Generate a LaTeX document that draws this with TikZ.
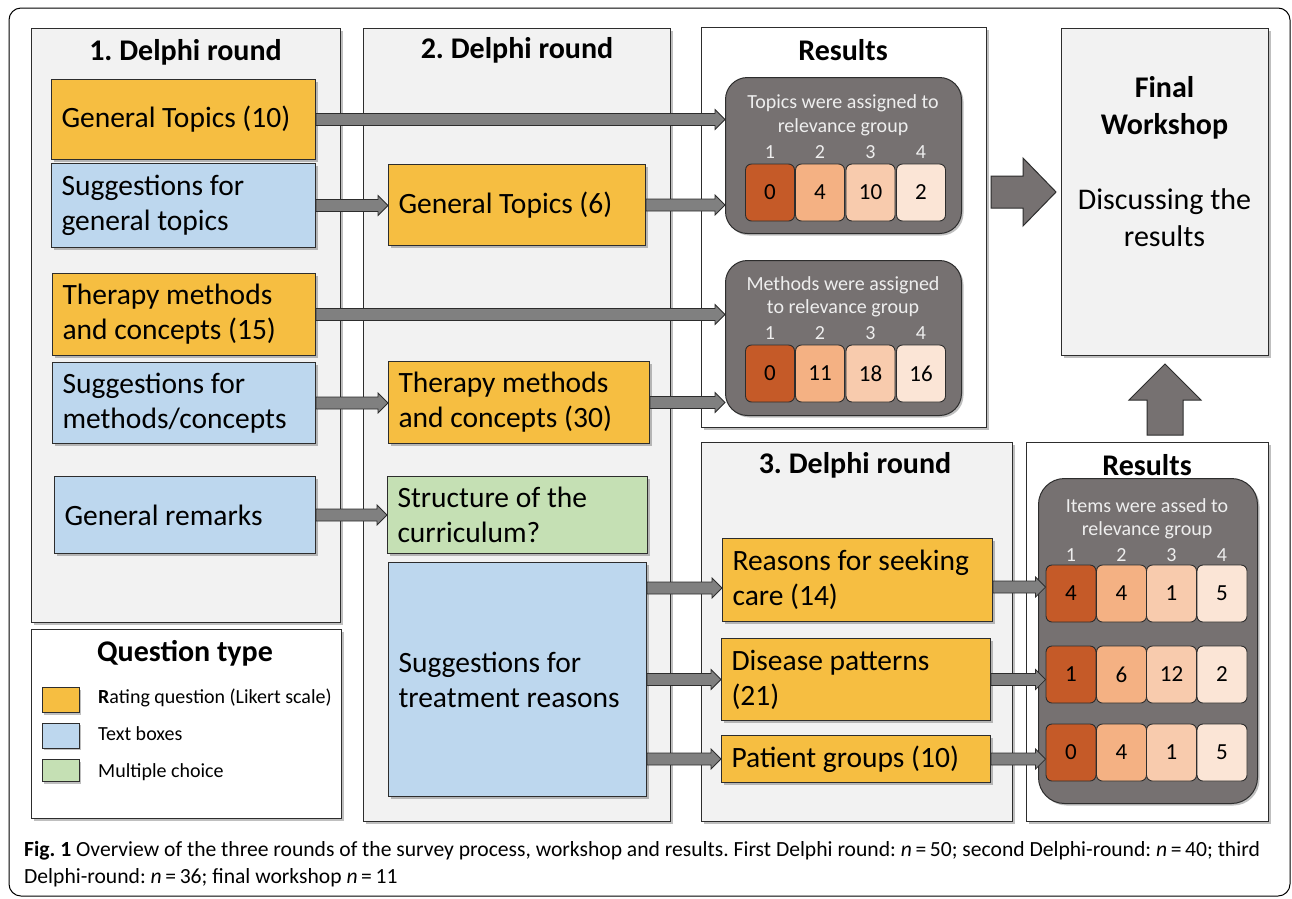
\documentclass[tikz,border=0pt]{standalone}
\usepackage{fontspec}
\setmainfont{Carlito}
\usetikzlibrary{shadows,calc}
\definecolor{orangec}{RGB}{246,190,65}
\definecolor{bluec}{RGB}{189,215,238}
\definecolor{greenc}{RGB}{197,224,180}
\definecolor{panelc}{RGB}{242,242,242}
\definecolor{linec}{RGB}{45,45,45}
\definecolor{resc}{RGB}{118,113,113}
\definecolor{arrowc}{RGB}{128,128,128}
\definecolor{cA}{RGB}{197,90,40}
\definecolor{cB}{RGB}{244,177,131}
\definecolor{cC}{RGB}{248,203,173}
\definecolor{cD}{RGB}{251,229,214}
\definecolor{lighttext}{RGB}{238,238,238}
\frenchspacing
\newcommand\fsz[2]{\fontsize{#1pt}{#2pt}\selectfont}
\newcommand\flowarrow[2]{%
  \draw[flow] let \p1=(#1), \p2=(#2) in
    (\x1,\y1+6pt) -- (\x2-10pt,\y1+6pt) -- (\x2-10pt,\y1+10pt) -- (\x2,\y1)
    -- (\x2-10pt,\y1-10pt) -- (\x2-10pt,\y1-6pt) -- (\x1,\y1-6pt) -- cycle;}
\begin{document}
\begin{tikzpicture}[x=1pt,y=-1pt,
  shad/.style={drop shadow={shadow xshift=2pt,shadow yshift=-2pt,opacity=0.25,fill=black}},
  panel/.style={draw=linec,fill=panelc,line width=1,anchor=north west,inner sep=0,shad},
  wpanel/.style={draw=linec,fill=white,line width=1,anchor=north west,inner sep=0,shad},
  qbox/.style={draw=linec,line width=1,anchor=north west,inner xsep=10pt,inner ysep=0pt,
     align=flush left,font=\fsz{29.5}{35},shad},
  ttl/.style={font=\bfseries\fsz{30}{36},inner sep=0},
  flow/.style={fill=arrowc,draw=linec,line width=0.8},
  bigarrow/.style={fill=resc,draw=linec,line width=1},
  resbox/.style={draw=linec,fill=resc,line width=1,rounded corners=22pt,anchor=north west,inner sep=0,shad},
  cell/.style={draw=linec,line width=0.9,rounded corners=6pt,minimum width=49pt,minimum height=57pt,inner sep=0,font=\fsz{23}{26}},
  colnum/.style={text=lighttext,font=\fsz{20}{24},inner sep=0},
  swatch/.style={draw=linec,line width=1,minimum width=37pt,minimum height=25pt,inner sep=0,shad},
  legtxt/.style={anchor=west,font=\fsz{20}{24},inner sep=0}
]
\useasboundingbox (0,0) rectangle (1292,898);
\fill[white] (0,0) rectangle (1292,898);
\draw[black,line width=1,rounded corners=12pt] (9,8) rectangle (1290,896);

% panels
\node[panel,minimum width=309,minimum height=594] (p1) at (31,28) {};
\node[wpanel,minimum width=310,minimum height=189] (leg) at (31,629) {};
\node[panel,minimum width=307,minimum height=793] (p2) at (363,28) {};
\node[wpanel,minimum width=285,minimum height=400] (r1) at (701,27) {};
\node[panel,minimum width=311,minimum height=379] (p3) at (701,442) {};
\node[wpanel,minimum width=242,minimum height=379] (r2) at (1026,442) {};
\node[panel,minimum width=207,minimum height=327] (ws) at (1061,28) {};

% titles
\node[ttl] (t1) at (185.5,52) {1. Delphi round};
\node[ttl] (t2) at (517,50) {2. Delphi round};
\node[ttl] (t3) at (843,50) {Results};
\node[ttl] (t4) at (855,465) {3. Delphi round};
\node[ttl] (t5) at (1147,465) {Results};
\node[ttl,align=flush center,font=\bfseries\fsz{30}{37}] (wt) at (1164.5,107.5) {Final\\Workshop};
\node[align=flush center,font=\fsz{30}{37},inner sep=0] (wd) at (1164.5,217.5) {Discussing the\\results};

% round 1 boxes
\node[qbox,fill=orangec,text width=244,minimum height=80] (gt10) at (51,79) {General Topics (10)};
\node[qbox,fill=bluec,text width=244,minimum height=84] (sgt) at (51,163) {Suggestions for\\general topics};
\node[qbox,fill=orangec,text width=243,minimum height=82] (tm15) at (52,273) {Therapy methods\\and concepts (15)};
\node[qbox,fill=bluec,text width=243,minimum height=81] (smc) at (52,362) {Suggestions for\\methods/concepts};
\node[qbox,fill=bluec,text width=241,minimum height=77] (grem) at (54,476) {General remarks};

% round 2 boxes
\node[qbox,fill=orangec,text width=237,minimum height=81] (gt6) at (388,164) {General Topics (6)};
\node[qbox,fill=orangec,text width=241,minimum height=82] (tm30) at (388,361) {Therapy methods\\and concepts (30)};
\node[qbox,fill=greenc,text width=240,minimum height=77] (struct) at (387,476) {Structure of the\\curriculum?};
\node[qbox,fill=bluec,text width=238,minimum height=234] (treat) at (388,562) {Suggestions for\\treatment reasons};

% round 3 boxes
\node[qbox,fill=orangec,text width=250,minimum height=83] (reas) at (722,538) {Reasons for seeking\\care (14)};
\node[qbox,fill=orangec,text width=249,minimum height=82] (dis) at (721,638) {Disease patterns\\(21)};
\node[qbox,fill=orangec,text width=249,minimum height=47] (pat) at (721,735) {Patient groups (10)};

% results 1
\node[resbox,minimum width=236,minimum height=156] (resA) at (725,77) {};
\node[colnum,align=flush center,font=\fsz{20}{24}] (hA) at (843,115) {Topics were assigned to\\relevance group};
\node[resbox,minimum width=236,minimum height=155] (resB) at (725,260) {};
\node[colnum,align=flush center,font=\fsz{20}{23}] (hB) at (843,296.5) {Methods were assigned\\to relevance group};
\foreach \n/\x in {1/770,2/820,3/870.5,4/921}{
  \node[colnum] (nA\n) at (\x,152) {\n};
  \node[colnum] (nB\n) at (\x,333) {\n};
}
\node[cell,fill=cA] (a1) at (770,192.5) {0};
\node[cell,fill=cB] (a2) at (820,192.5) {4};
\node[cell,fill=cC] (a3) at (870.5,192.5) {10};
\node[cell,fill=cD] (a4) at (921,192.5) {2};
\node[cell,fill=cA] (b1) at (770,373.5) {0};
\node[cell,fill=cB] (b2) at (820,373.5) {11};
\node[cell,fill=cC] (b3) at (870.5,373.5) {18};
\node[cell,fill=cD] (b4) at (921,373.5) {16};

% results 2
\node[resbox,minimum width=219,minimum height=325,rounded corners=26pt] (resC) at (1038,478) {};
\node[colnum,align=flush center,font=\fsz{20}{23}] (hC) at (1147,518.5) {Items were assed to\\relevance group};
\foreach \n/\x in {1/1071,2/1121.5,3/1171.5,4/1222}{
  \node[colnum] (nC\n) at (\x,555) {\n};
}
\foreach \r/\y/\va/\vb/\vc/\vd in {1/593.5/4/4/1/5, 2/674.5/1/6/12/2, 3/752.5/0/4/1/5}{
  \node[cell,fill=cA,minimum width=50pt] (c\r1) at (1071,\y) {\va};
  \node[cell,fill=cB,minimum width=50pt] (c\r2) at (1121.5,\y) {\vb};
  \node[cell,fill=cC,minimum width=50pt] (c\r3) at (1171.5,\y) {\vc};
  \node[cell,fill=cD,minimum width=50pt] (c\r4) at (1222,\y) {\vd};
}

% flow arrows
\flowarrow{gt10.east}{resA.west}
\flowarrow{sgt.east}{gt6.west}
\flowarrow{gt6.east}{resA.west}
\flowarrow{tm15.east}{resB.west}
\flowarrow{smc.east}{tm30.west}
\flowarrow{tm30.east}{resB.west}
\flowarrow{grem.east}{struct.west}
\path (treat.east |- reas.west) ++(0,8) coordinate (tr1);
\flowarrow{tr1}{reas.west}
\flowarrow{treat.east |- dis.west}{dis.west}
\flowarrow{treat.east |- pat.west}{pat.west}
\path (reas.east) ++(0,7) coordinate (rs1);
\flowarrow{rs1}{c11.west}
\flowarrow{dis.east}{c21.west}
\flowarrow{pat.east}{c31.west}

% big arrows
\draw[bigarrow] let \p1=(r1.east), \p2=(ws.west), \p3=(ws.center) in
  (\x1+4pt,\y3+16pt) -- (\x2-38pt,\y3+16pt) -- (\x2-38pt,\y3+34pt) -- (\x2-5pt,\y3)
  -- (\x2-38pt,\y3-34pt) -- (\x2-38pt,\y3-16pt) -- (\x1+4pt,\y3-16pt) -- cycle;
\draw[bigarrow] let \p1=(ws.south), \p2=(r2.north) in
  (\x1-18pt,\y2+7pt) -- (\x1-18pt,\y1-44pt) -- (\x1-36pt,\y1-44pt) -- (\x1,\y1-8pt)
  -- (\x1+36pt,\y1-44pt) -- (\x1+18pt,\y1-44pt) -- (\x1+18pt,\y2+7pt) -- cycle;

% legend
\node[ttl] (lt) at (185,653) {Question type};
\node[swatch,fill=orangec] (s1) at (60.5,700) {};
\node[swatch,fill=bluec] (s2) at (60.5,735.5) {};
\node[swatch,fill=greenc,minimum height=22pt] (s3) at (60.5,770.5) {};
\node[legtxt] (l1) at (98,698) {\textbf{R}ating question (Likert scale)};
\node[legtxt] (l2) at (98,734) {Text boxes};
\node[legtxt] (l3) at (98,772) {Multiple choice};

% caption
\node[anchor=west,inner sep=0,font=\fsz{21.6}{26}] (cap1) at (24,851) {\textbf{Fig. 1} Overview of the three rounds of the survey process, workshop and results. First Delphi round: \textit{n}\,=\,50; second Delphi-round: \textit{n}\,=\,40; third};
\node[anchor=west,inner sep=0,font=\fsz{21.6}{26}] (cap2) at (24,878) {Delphi-round: \textit{n}\,=\,36; final workshop \textit{n}\,=\,11};
\end{tikzpicture}
\end{document}
